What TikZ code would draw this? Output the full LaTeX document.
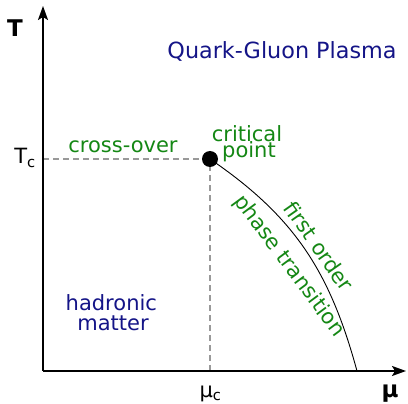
\documentclass[tikz,border=0pt]{standalone}
\usepackage{fontspec}
\setmainfont{DejaVu Sans}
\usetikzlibrary{arrows.meta}
\definecolor{qgreen}{RGB}{20,135,20}
\definecolor{qblue}{RGB}{20,20,135}
\begin{document}
\begin{tikzpicture}[x=1pt,y=-1pt,
  axis/.style={line width=1.8pt,-{Stealth[length=14pt,width=10pt,inset=3pt]}},
  guide/.style={gray!80,line width=1.3pt,dash pattern=on 6pt off 4pt},
  gtext/.style={text=qgreen,font=\fontsize{21}{21}\selectfont,inner sep=0pt},
  btext/.style={text=qblue,font=\fontsize{21}{21}\selectfont,inner sep=0pt},
  ktext/.style={text=black,font=\fontsize{21}{21}\selectfont,inner sep=0pt},
  bold/.style={text=black,font=\fontsize{23}{23}\selectfont\bfseries,inner sep=0pt}]
\useasboundingbox (0,0) rectangle (408,404);
\coordinate (O) at (43,371);
\coordinate (Ttop) at (43,6);
\coordinate (Mend) at (406,371);
\coordinate (Tc) at (43,159);
\coordinate (Mc) at (210,371);
\coordinate (E) at (357,371);
\draw[guide] (Tc) -- (210,159);
\draw[guide] (Mc) -- (210,159);
\draw[axis] (O) -- (Ttop);
\draw[axis] (O) -- (Mend);
\node[circle,fill=black,inner sep=0pt,minimum size=16pt] (cp) at (210,159) {};
\draw[line width=0.9pt] (cp.center) .. controls (295,217) and (330,272) .. (E);
\node[bold] (Tl) at (15,28) {T};
\node[bold] (Ml) at (390,394) {μ};
\node[ktext,anchor=base] (Tcl) at (25,164) {T\textsubscript{c}};
\node[ktext,anchor=base] (Mcl) at (210.5,397) {μ\textsubscript{c}};
\node[btext,anchor=base,font=\fontsize{22.3}{22.3}\selectfont] (qgp) at (282,58.3) {Quark-Gluon Plasma};
\node[gtext,anchor=base] (co) at (123,152.3) {cross-over};
\node[gtext,anchor=base] (crit1) at (247,142) {critical};
\node[gtext,anchor=base] (crit2) at (249,158) {point};
\node[gtext,rotate=-55] (fo) at (319,246) {first order};
\node[gtext,rotate=-53.5] (pt) at (289,266) {phase transition};
\node[btext,anchor=base] (hm1) at (111.3,311) {hadronic};
\node[btext,anchor=base] (hm2) at (113,330.7) {matter};
\end{tikzpicture}
\end{document}
